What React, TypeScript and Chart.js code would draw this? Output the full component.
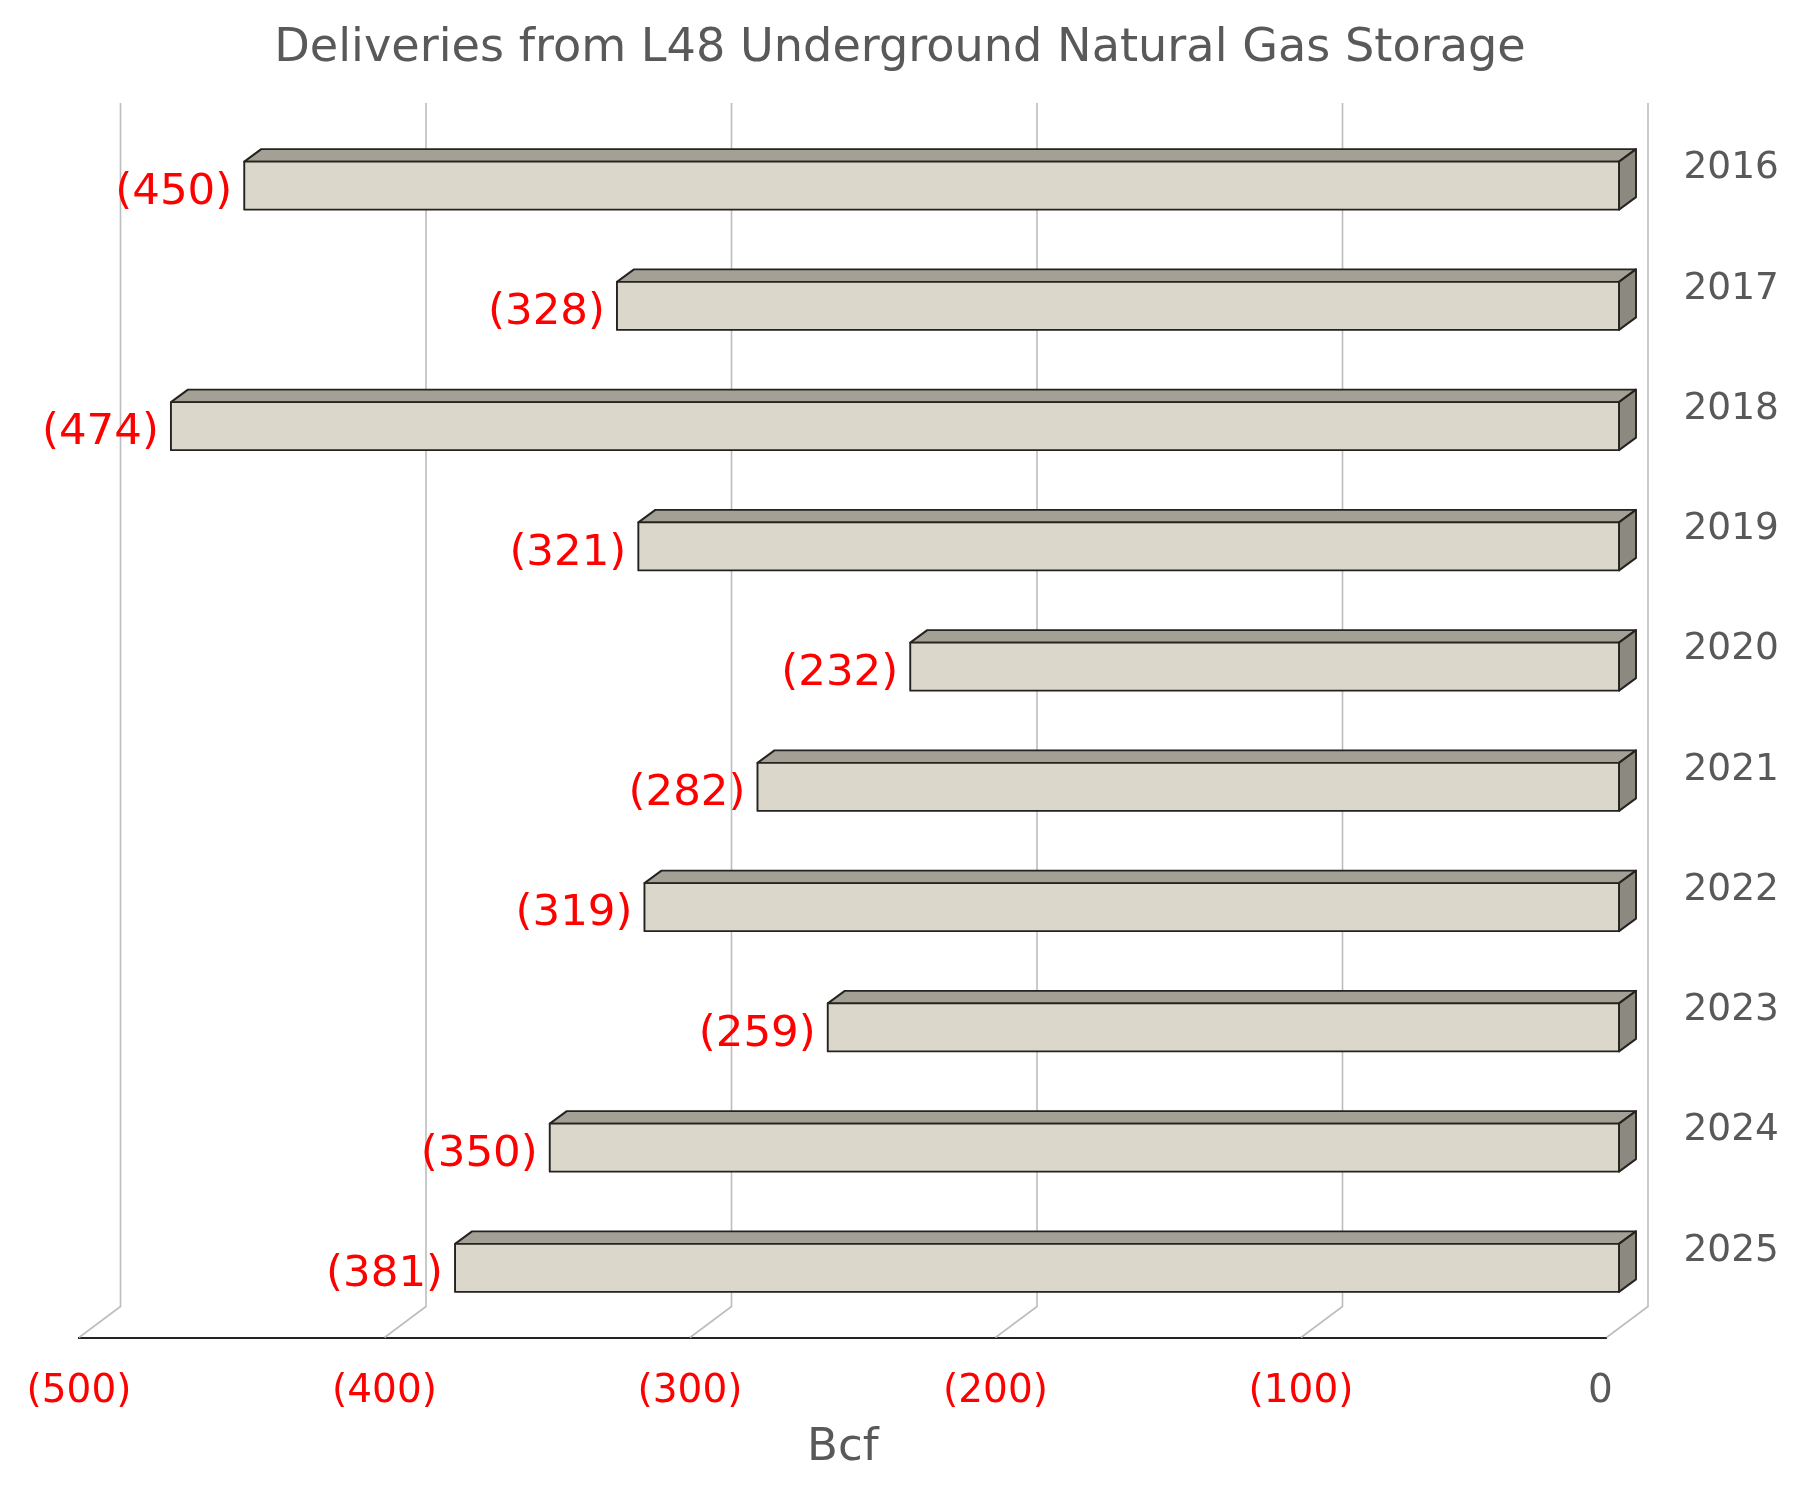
import React, { useEffect, useRef } from "react";
import { Chart, registerables } from "chart.js";

Chart.register(...registerables);

const TITLE = "Deliveries from L48 Underground Natural Gas Storage";
const AXIS_TITLE = "Bcf";
const years = ["2016", "2017", "2018", "2019", "2020", "2021", "2022", "2023", "2024", "2025"];
const deliveries = [-450, -328, -474, -321, -232, -282, -319, -259, -350, -381];
const valueTicks = [-500, -400, -300, -200, -100, 0];

const FONT = "'DejaVu Sans', Verdana, sans-serif";
const TEXT_GREY = "#595959";
const RED = "#ff0000";
const GRID = "#bdbdbd";
const EDGE = "#26221f";

const fmt = (v: number) => (v < 0 ? `(${Math.abs(v)})` : `${v} `);

const bar3d = {
  id: "bar3d",
  beforeDraw(chart: any) {
    chart.titleBlock.left = 0;
    chart.titleBlock.right = chart.width;
  },
  beforeDatasetsDraw(chart: any) {
    const { ctx, scales, chartArea } = chart;
    const x = scales.x;
    ctx.save();
    ctx.strokeStyle = GRID;
    ctx.lineWidth = 1.6;
    valueTicks.forEach((v) => {
      const px = x.getPixelForValue(v);
      ctx.beginPath();
      ctx.moveTo(px, chartArea.bottom);
      ctx.lineTo(px + 41.5, chartArea.bottom - 31);
      ctx.lineTo(px + 41.5, chartArea.top - 32);
      ctx.stroke();
    });
    ctx.restore();
  },
  beforeDatasetDraw(chart: any) {
    const { ctx } = chart;
    const meta = chart.getDatasetMeta(0);
    ctx.save();
    ctx.translate(12.5, -9.5);
    ctx.lineWidth = 1.9;
    ctx.strokeStyle = EDGE;
    ctx.lineJoin = "round";
    meta.data.forEach((el: any) => {
      const { x, y, base, height } = el.getProps(["x", "y", "base", "height"], true);
      const top = y - height / 2;
      const bot = y + height / 2;
      ctx.fillStyle = "#a3a096";
      ctx.beginPath();
      ctx.moveTo(x, top);
      ctx.lineTo(base, top);
      ctx.lineTo(base + 17, top - 12.5);
      ctx.lineTo(x + 17, top - 12.5);
      ctx.closePath();
      ctx.fill();
      ctx.stroke();
      ctx.fillStyle = "#8c8a80";
      ctx.beginPath();
      ctx.moveTo(base, top);
      ctx.lineTo(base + 17, top - 12.5);
      ctx.lineTo(base + 17, bot - 12.5);
      ctx.lineTo(base, bot);
      ctx.closePath();
      ctx.fill();
      ctx.stroke();
    });
  },
  afterDatasetDraw(chart: any) {
    const { ctx } = chart;
    const meta = chart.getDatasetMeta(0);
    meta.data.forEach((el: any) => {
      const { x, y, base, height } = el.getProps(["x", "y", "base", "height"], true);
      ctx.strokeRect(x, y - height / 2, base - x, height);
    });
    ctx.restore();
  },
  afterDatasetsDraw(chart: any) {
    const { ctx } = chart;
    const meta = chart.getDatasetMeta(0);
    ctx.save();
    ctx.fillStyle = RED;
    ctx.font = `43.5px ${FONT}`;
    ctx.textAlign = "right";
    ctx.textBaseline = "middle";
    meta.data.forEach((el: any, i: number) => {
      const { x, y } = el.getProps(["x", "y"], true);
      ctx.fillText(fmt(deliveries[i]), x + 12.5 - 12, y - 9.5 + 7);
    });
    ctx.restore();
  },
};

export default function App() {
  const ref = useRef<HTMLCanvasElement>(null);
  useEffect(() => {
    const chart = new Chart(ref.current!, {
      type: "bar",
      plugins: [bar3d],
      data: {
        labels: years,
        datasets: [
          {
            data: deliveries,
            backgroundColor: "#dbd7cb",
            borderWidth: 0,
            borderSkipped: false,
            barThickness: 48,
            clip: false,
          } as any,
        ],
      },
      options: {
        indexAxis: "y",
        responsive: false,
        animation: false,
        layout: { autoPadding: false, padding: { left: 79, right: 0, top: 0, bottom: 0 } },
        plugins: {
          legend: { display: false },
          tooltip: { enabled: false },
          title: {
            display: true,
            text: TITLE,
            color: TEXT_GREY,
            font: { family: FONT, size: 46.2, weight: "normal", lineHeight: 1.2 },
            padding: { top: 21.2, bottom: 58.36 },
          },
        },
        scales: {
          x: {
            type: "linear",
            position: "bottom",
            min: -500,
            max: 0,
            grid: { display: false, drawTicks: false },
            border: { display: true, color: EDGE, width: 2 },
            afterFit: (s: any) => {
              s.height = 162.5;
              s.paddingLeft = 0;
              s.paddingRight = 0;
            },
            afterBuildTicks: (s: any) => {
              s.ticks = valueTicks.map((value) => ({ value }));
            },
            ticks: {
              padding: 31,
              maxRotation: 0,
              autoSkip: false,
              font: { family: FONT, size: 39 },
              color: (c: any) => (c.tick.value < 0 ? RED : TEXT_GREY),
              callback: (v: any) => fmt(Number(v)),
            },
            title: {
              display: true,
              text: AXIS_TITLE,
              color: TEXT_GREY,
              font: { family: FONT, size: 45, lineHeight: 1.2 },
              padding: { top: 0, bottom: 25 },
            },
          },
          y: {
            type: "category",
            position: "right",
            offset: true,
            grid: { display: false, drawTicks: false },
            border: { display: false },
            afterFit: (s: any) => {
              s.width = 193.5;
            },
            ticks: {
              padding: 77,
              labelOffset: -26.5,
              autoSkip: false,
              font: { family: FONT, size: 37.5 },
              color: TEXT_GREY,
            },
          },
        },
      } as any,
    });
    return () => chart.destroy();
  }, []);
  return (
    <div style={{ position: "absolute", left: 0, top: 0, width: 1800, height: 1500, background: "#fff" }}>
      <canvas ref={ref} width={1800} height={1500} style={{ display: "block" }} />
    </div>
  );
}
